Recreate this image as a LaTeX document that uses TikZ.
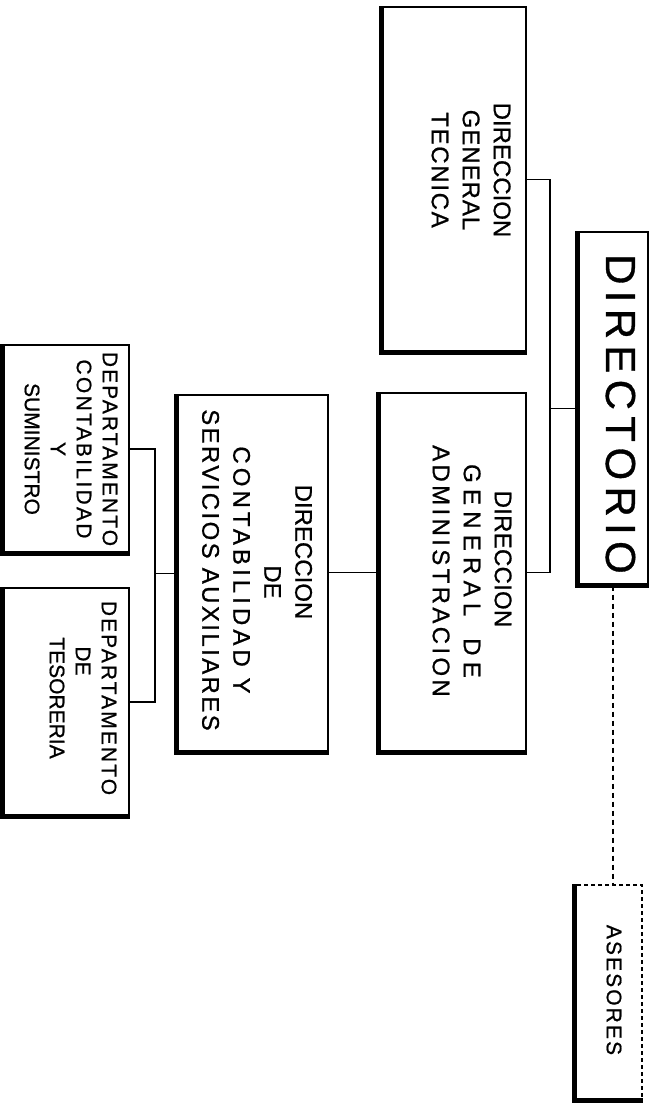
\documentclass[tikz,border=0pt]{standalone}
\usepackage{graphicx}
\usepackage{fontspec}
\setmainfont[FakeBold=0.8]{Liberation Sans}
\newfontfamily\bigf[LetterSpace=15,FakeBold=0.8]{Liberation Sans}
\newcommand\vtext[1]{\rotatebox{-90}{\begin{tabular}{@{}c@{}}#1\end{tabular}}}
\newcommand\lsp[2]{{\addfontfeature{LetterSpace=#1}#2}}
\begin{document}
\begin{tikzpicture}[x=1pt,y=1pt,
  box/.style 2 args={draw, line width=1.5pt, inner sep=0pt, minimum width=#1, minimum height=#2},
  shadowline/.style={line width=4.5pt},
  conn/.style={line width=1.8pt},
  dconn/.style={line width=1.4pt, dash pattern=on 5pt off 4pt},
  txt/.style={inner sep=0pt},
  midtxt/.style={txt, font=\fontsize{24}{31}\selectfont},
  smltxt/.style={txt, font=\fontsize{21}{26}\selectfont}]
\fill[white] (0,0) rectangle (652,1106);
\useasboundingbox (0,0) rectangle (652,1106);

% boxes
\node[box={144}{345}] (dgt) at (454,926.5) {};
\node[box={70}{353}] (dir) at (613,697.5) {};
\node[box={147}{359}] (dga) at (452.5,533.5) {};
\node[box={151}{357}] (dcsa) at (252.5,532.5) {};
\node[box={126}{208}] (dcs) at (66,657) {};
\node[box={126}{228}] (dte) at (66,404) {};
\node[box={67}{215}, dash pattern=on 4pt off 3pt] (ase) at (608.5,113.5) {};

% texts
\node[midtxt] (dgt-t) at (469,936) {\vtext{DIRECCION\\\lsp{4}{GENERAL}\\\lsp{7}{TECNICA}}};
\node[txt, font=\bigf\fontsize{42}{50}\selectfont] (dir-t) at (616,692) {\vtext{DIRECTORIO}};
\node[midtxt] (dga-t) at (470,535) {\vtext{\lsp{1}{DIRECCION}\hspace*{24pt}\\\lsp{26}{GENERAL\hspace{22pt}DE}\\\lsp{14}{ADMINISTRACION}}};
\node[midtxt] (dcsa-t) at (255,536) {\vtext{DIRECCION\hspace*{36pt}\\\hspace*{24pt}DE\\\lsp{17}{CONTABILIDAD Y}\\\lsp{10}{SERVICIOS AUXILIARES}}};
\node[smltxt] (dcs-t) at (69,657) {\vtext{\lsp{10}{DEPARTAMENTO}\\\lsp{11}{CONTABILIDAD}\\Y\\SUMINISTRO}};
\node[smltxt] (dte-t) at (81,408) {\vtext{\lsp{10}{DEPARTAMENTO}\\DE\hspace*{74pt}\\TESORERIA}};
\node[smltxt] (ase-t) at (612,116) {\vtext{\lsp{10}{ASESORES}}};

% shadow edges (left and bottom)
\foreach \n in {dgt,dir,dga,dcsa,dcs,dte,ase}
  \draw[shadowline] (\n.north west) -- (\n.south west) -- (\n.south east);

% connectors
\coordinate (j1) at (550,697.5);
\coordinate (j2) at (155,532.5);
\draw[conn] (dir.west) -- (j1);
\draw[conn] (dgt.east) -| (j1) |- (dga.east);
\draw[conn] (dga.west) -- (dga.west -| dcsa.east);
\draw[conn] (dcsa.west) -- (j2);
\draw[conn] (dcs.east) -| (j2) |- (dte.east);
\draw[dconn] (dir.south) -- (dir.south |- ase.north);
\end{tikzpicture}
\end{document}
